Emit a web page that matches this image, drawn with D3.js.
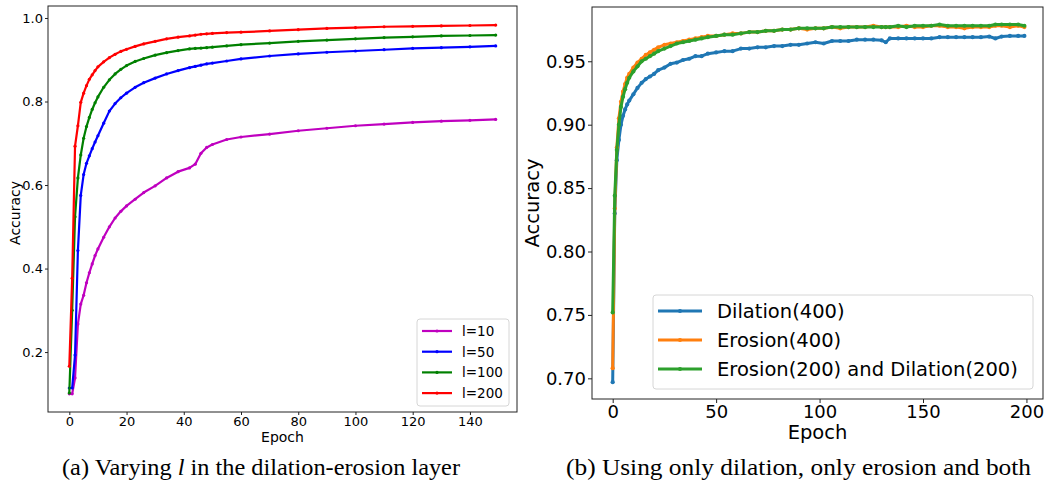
<!DOCTYPE html>
<html>
<head>
<meta charset="utf-8">
<script src="https://cdn.jsdelivr.net/npm/d3@7"></script>
<style>
  body { margin: 0; background: #fff; }
  svg { display: block; }
  .tick text { font-family: "DejaVu Sans", sans-serif; fill: #000; }
</style>
</head>
<body>
<script>
// ---- left panel data: accuracy vs epoch for different l ----
var epochsA = [0,1,2,3,4,5,6,7,8,9,10,12,14,16,18,20,23,26,30,34,38,42,44,46,48,50,55,60,70,80,90,100,110,120,130,140,149]
var accL10  = [0.100,0.100,0.138,0.267,0.315,0.336,0.366,0.390,0.411,0.431,0.447,0.475,0.500,0.521,0.537,0.550,0.566,0.582,0.598,0.617,0.632,0.641,0.650,0.676,0.690,0.697,0.709,0.715,0.722,0.730,0.736,0.742,0.746,0.750,0.753,0.755,0.757]
var accL50  = [0.114,0.114,0.193,0.443,0.575,0.625,0.652,0.670,0.687,0.703,0.718,0.748,0.777,0.795,0.809,0.820,0.834,0.845,0.856,0.866,0.874,0.881,0.884,0.887,0.890,0.892,0.897,0.902,0.909,0.914,0.918,0.921,0.924,0.927,0.929,0.931,0.933]
var accL100 = [0.102,0.300,0.524,0.617,0.672,0.712,0.740,0.762,0.781,0.797,0.811,0.834,0.852,0.866,0.877,0.886,0.896,0.903,0.911,0.917,0.922,0.926,0.927,0.928,0.929,0.930,0.933,0.936,0.940,0.944,0.947,0.950,0.953,0.955,0.957,0.958,0.959]
var accL200 = [0.166,0.377,0.693,0.742,0.798,0.820,0.838,0.853,0.864,0.874,0.883,0.895,0.905,0.913,0.920,0.925,0.932,0.938,0.944,0.950,0.954,0.957,0.959,0.961,0.962,0.963,0.965,0.966,0.969,0.972,0.975,0.977,0.979,0.980,0.981,0.982,0.983]
var namesA  = ['l=10', 'l=50', 'l=100', 'l=200']
var colorsA = ['#bf00bf', '#0000ff', '#008000', '#ff0000']
var xTicksA = [0,20,40,60,80,100,120,140]
var yTicksA = [0.2,0.4,0.6,0.8,1.0]

// ---- right panel data: dilation / erosion / both ----
var epochsB = [0,1,2,3,4,5,6,7,8,10,12,14,16,18,20,22,25,28,31,34,37,40,43,46,50,54,58,62,66,70,74,78,82,86,90,94,98,102,106,110,114,118,122,126,130,132,134,138,142,146,150,154,158,162,166,170,174,178,182,185,188,192,196,199]
var accDil  = [0.697,0.830,0.872,0.888,0.900,0.907,0.912,0.916,0.919,0.924,0.929,0.933,0.936,0.938,0.940,0.943,0.945,0.948,0.949,0.951,0.952,0.954,0.954,0.956,0.957,0.958,0.958,0.960,0.960,0.961,0.961,0.962,0.962,0.963,0.963,0.964,0.965,0.964,0.966,0.966,0.966,0.967,0.967,0.967,0.9665,0.965,0.968,0.968,0.968,0.968,0.968,0.968,0.969,0.969,0.969,0.969,0.969,0.969,0.9695,0.968,0.9695,0.970,0.970,0.970]
var accEro  = [0.708,0.834,0.882,0.905,0.918,0.926,0.932,0.937,0.940,0.945,0.949,0.952,0.955,0.957,0.959,0.961,0.963,0.964,0.965,0.966,0.967,0.968,0.969,0.970,0.970,0.971,0.972,0.972,0.973,0.973,0.974,0.974,0.975,0.975,0.976,0.975,0.976,0.976,0.977,0.976,0.977,0.977,0.977,0.978,0.977,0.977,0.977,0.977,0.978,0.977,0.977,0.978,0.978,0.977,0.977,0.976,0.977,0.977,0.977,0.978,0.978,0.977,0.978,0.977]
var accBoth = [0.752,0.844,0.880,0.900,0.914,0.922,0.928,0.933,0.937,0.942,0.946,0.950,0.952,0.954,0.956,0.958,0.960,0.962,0.964,0.965,0.966,0.967,0.968,0.969,0.970,0.971,0.971,0.972,0.973,0.973,0.974,0.974,0.975,0.975,0.976,0.976,0.976,0.976,0.977,0.977,0.977,0.977,0.977,0.977,0.977,0.977,0.977,0.978,0.977,0.978,0.978,0.978,0.979,0.978,0.978,0.978,0.978,0.978,0.978,0.979,0.979,0.979,0.979,0.978]
var namesB  = ['Dilation(400)', 'Erosion(400)', 'Erosion(200) and Dilation(200)']
var colorsB = ['#1f77b4', '#ff7f0e', '#2ca02c']
var xTicksB = [0,50,100,150,200]
var yTicksB = [0.70,0.75,0.80,0.85,0.90,0.95]


var svg = d3.select('body').append('svg')
            .attr('width', 1045)
            .attr('height', 487)

svg.append('rect').attr('width', 1045).attr('height', 487).attr('fill', '#fff')


function panel (o) {
  var x = d3.scaleLinear().domain(o.xDomain).range([o.left, o.right])
  var y = d3.scaleLinear().domain(o.yDomain).range([o.bottom, o.top])
  var g = svg.append('g')

  // x axis
  g.append('g')
    .attr('transform', 'translate(0,' + o.bottom + ')')
    .call(d3.axisBottom(x).tickValues(o.xTicks).tickFormat(d3.format('d'))
            .tickSize(o.tick).tickPadding(o.pad))
    .call(a => a.select('.domain').remove())
    .call(a => a.selectAll('.tick line').attr('stroke', '#222'))
    .call(a => a.selectAll('.tick text').attr('font-size', o.tickFont))

  // y axis
  g.append('g')
    .attr('transform', 'translate(' + o.left + ',0)')
    .call(d3.axisLeft(y).tickValues(o.yTicks).tickFormat(d3.format(o.yFmt))
            .tickSize(o.tick).tickPadding(o.pad))
    .call(a => a.select('.domain').remove())
    .call(a => a.selectAll('.tick line').attr('stroke', '#222'))
    .call(a => a.selectAll('.tick text').attr('font-size', o.tickFont))

  // lines and markers
  var line = d3.line().x(d => x(d[0])).y(d => y(d[1]))
  o.series.forEach(function (vals, i) {
    var pts = o.epochs.map((e, j) => [e, vals[j]])
    g.append('path').datum(pts)
      .attr('fill', 'none')
      .attr('stroke', o.colors[i])
      .attr('stroke-width', o.lw)
      .attr('stroke-linejoin', 'round')
      .attr('d', line)
    g.append('g').selectAll('circle').data(pts).enter().append('circle')
      .attr('cx', d => x(d[0]))
      .attr('cy', d => y(d[1]))
      .attr('r', o.mr)
      .attr('fill', o.colors[i])
  })

  // frame
  g.append('rect')
    .attr('x', o.left).attr('y', o.top)
    .attr('width', o.right - o.left).attr('height', o.bottom - o.top)
    .attr('fill', 'none').attr('stroke', '#222').attr('stroke-width', 1)

  // axis labels
  g.append('text')
    .attr('x', (o.left + o.right) / 2).attr('y', o.xLabelY)
    .attr('text-anchor', 'middle')
    .attr('font-family', 'DejaVu Sans').attr('font-size', o.labelFont)
    .text('Epoch')
  g.append('text')
    .attr('transform', 'translate(' + o.yLabelX + ',' + o.yLabelMid + ') rotate(-90)')
    .attr('text-anchor', 'middle')
    .attr('dominant-baseline', 'central')
    .attr('font-family', 'DejaVu Sans').attr('font-size', o.labelFont)
    .text('Accuracy')

  // legend
  var L = o.legend
  g.append('rect')
    .attr('x', L.x0).attr('y', L.y0)
    .attr('width', L.x1 - L.x0).attr('height', L.y1 - L.y0)
    .attr('rx', 3)
    .attr('fill', '#fff').attr('fill-opacity', 0.85)
    .attr('stroke', '#d6d6d6')
  o.names.forEach(function (name, i) {
    var yy = L.rowY + i * L.step
    g.append('line')
      .attr('x1', L.lineX0).attr('x2', L.lineX1)
      .attr('y1', yy).attr('y2', yy)
      .attr('stroke', o.colors[i]).attr('stroke-width', o.lw)
    g.append('circle')
      .attr('cx', (L.lineX0 + L.lineX1) / 2).attr('cy', yy)
      .attr('r', o.mr).attr('fill', o.colors[i])
    g.append('text')
      .attr('x', L.textX).attr('y', yy)
      .attr('dominant-baseline', 'central')
      .attr('font-family', 'DejaVu Sans').attr('font-size', L.font)
      .text(name)
  })
}

panel({
  left: 48, right: 517, top: 6, bottom: 412,
  xDomain: [-7.45, 156.45], yDomain: [0.0565, 1.0287],
  xTicks: xTicksA, yTicks: yTicksA, yFmt: '.1f',
  tick: 3, pad: 2, tickFont: '13px',
  epochs: epochsA, series: [accL10, accL50, accL100, accL200],
  colors: colorsA, names: namesA, lw: 2.2, mr: 1.6,
  labelFont: '14px', xLabelY: 442, yLabelX: 15, yLabelMid: 213,
  legend: { x0: 417, x1: 509, y0: 319, y1: 406, rowY: 331, step: 20.7,
            lineX0: 422, lineX1: 452, textX: 462, font: '13.5px' }
})

panel({
  left: 592, right: 1043, top: 7, bottom: 399,
  xDomain: [-10, 208], yDomain: [0.6837, 0.9928],
  xTicks: xTicksB, yTicks: yTicksB, yFmt: '.2f',
  tick: 4, pad: 2, tickFont: '18px',
  epochs: epochsB, series: [accDil, accEro, accBoth],
  colors: colorsB, names: namesB, lw: 3, mr: 2.1,
  labelFont: '19.5px', xLabelY: 439, yLabelX: 532, yLabelMid: 203,
  legend: { x0: 653, x1: 1033, y0: 295, y1: 389, rowY: 311, step: 29,
            lineX0: 658, lineX1: 702, textX: 717, font: '19.5px' }
})

// captions
var capA = svg.append('text')
  .attr('x', 261).attr('y', 475)
  .attr('text-anchor', 'middle')
  .attr('textLength', 398).attr('lengthAdjust', 'spacingAndGlyphs')
  .attr('font-family', '"Liberation Serif", serif').attr('font-size', '24px')
capA.append('tspan').text('(a) Varying ')
capA.append('tspan').attr('font-style', 'italic').text('l')
capA.append('tspan').text(' in the dilation-erosion layer')

svg.append('text')
  .attr('x', 798.5).attr('y', 475)
  .attr('text-anchor', 'middle')
  .attr('textLength', 465).attr('lengthAdjust', 'spacingAndGlyphs')
  .attr('font-family', '"Liberation Serif", serif').attr('font-size', '24px')
  .text('(b) Using only dilation, only erosion and both')
</script>
</body>
</html>
